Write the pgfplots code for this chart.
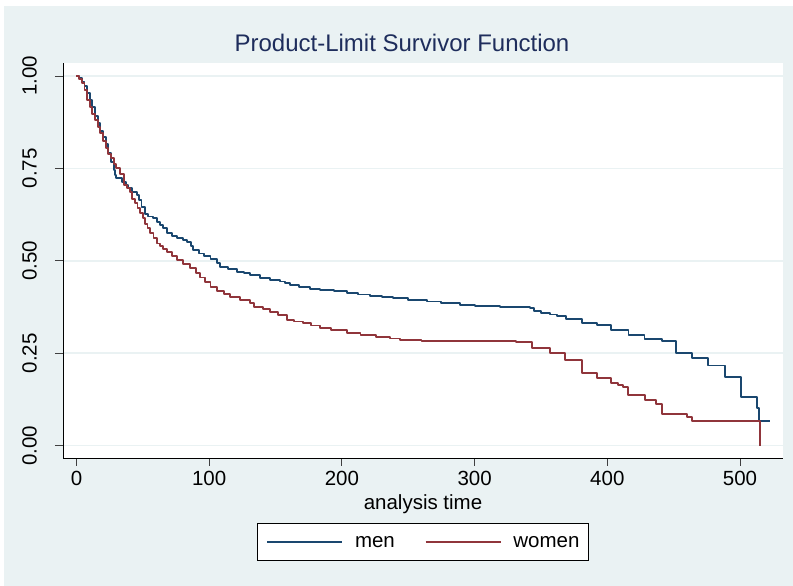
\documentclass[border=0pt]{standalone}
\usepackage{pgfplots}
\pgfplotsset{compat=1.18}
\usepackage{fontspec}
\setmainfont{Liberation Sans}

\definecolor{bgcol}{HTML}{EAF2F3}
\definecolor{gridcol}{HTML}{EAF2F3}
\definecolor{mencol}{HTML}{1A476F}
\definecolor{womencol}{HTML}{90353B}
\definecolor{titlecol}{HTML}{1E2D5C}

% Kaplan-Meier step estimates
\pgfplotstableread{
t s
0 1.000
2 0.995
4 0.985
6 0.972
8 0.955
10 0.935
12 0.915
14 0.893
16 0.872
18 0.852
20 0.835
22 0.815
24 0.792
26 0.768
28 0.745
29 0.732
30 0.723
34 0.714
37 0.705
39 0.696
41.6 0.687
45.4 0.678
47 0.665
49 0.646
51.6 0.627
54 0.620
57.9 0.615
60.4 0.605
62.9 0.598
65 0.588
68 0.575
72 0.568
75.5 0.563
80 0.556
83 0.550
86 0.540
88 0.529
92 0.520
96 0.512
101 0.505
106 0.495
108 0.484
114 0.478
120.7 0.471
126 0.466
130.7 0.462
138 0.453
146 0.448
153.4 0.444
157 0.440
160.9 0.435
168 0.430
176 0.425
183.5 0.421
194 0.418
203.6 0.412
212 0.409
221 0.405
230 0.402
238.7 0.399
250 0.395
258 0.393
264 0.390
275 0.386
289 0.381
300 0.379
319 0.376
332 0.374
342 0.372
345 0.365
350 0.360
357 0.355
362 0.350
369 0.342
381 0.333
392 0.326
403 0.312
416 0.300
428 0.288
441 0.283
452 0.250
464 0.236
476 0.217
489 0.187
501 0.132
512.5 0.101
514 0.068
522.6 0.068
}\men

\pgfplotstableread{
t s
0 1.000
2 0.993
4 0.980
6 0.962
8 0.935
10 0.915
12 0.898
14 0.880
16 0.862
18 0.845
20 0.825
22 0.806
24 0.790
26 0.778
28 0.763
30 0.752
33 0.735
36 0.706
38 0.697
40.3 0.687
42 0.668
44 0.656
46 0.642
47.9 0.629
50 0.615
51.6 0.600
53.5 0.588
55.4 0.575
58 0.562
60.4 0.547
62.9 0.540
65 0.532
68 0.525
72 0.512
75.5 0.502
80 0.492
85.5 0.480
90 0.466
93 0.455
97 0.442
101 0.430
106 0.418
111 0.410
115.7 0.403
123 0.394
130.7 0.385
134 0.374
140.8 0.369
146 0.362
152 0.354
158.4 0.340
164 0.336
171 0.331
177 0.325
183.5 0.318
192 0.312
203.6 0.304
214 0.300
226 0.295
236 0.290
243.8 0.285
260 0.283
331 0.281
343 0.265
357 0.250
368 0.232
381 0.197
392 0.182
403 0.170
408 0.164
412 0.158
415.8 0.138
428.4 0.124
437 0.113
441 0.086
459.8 0.077
463.6 0.067
515 0.000
}\women

\begin{document}
\begin{tikzpicture}
\useasboundingbox (0,0) rectangle (793bp,586bp);
\fill[white] (0,0) rectangle (793bp,586bp);
\fill[bgcol] (4bp,0) rectangle (793bp,580bp);
\begin{axis}[
    at={(63bp,128bp)}, anchor=south west,
    scale only axis, width=720bp, height=395bp,
    xmin=-10.17, xmax=532.4, ymin=-0.0333, ymax=1.0352,
    axis background/.style={fill=white},
    axis x line=bottom, axis y line=left,
    axis line style={-, black, line width=0.9bp},
    xtick={0,100,200,300,400,500},
    ytick={0,0.25,0.5,0.75,1},
    tick align=outside, major tick length=8bp,
    tick style={black!75, line width=0.9bp},
    ymajorgrids, grid style={gridcol, line width=1.6bp},
    /pgf/number format/assume math mode=true,
    tick label style={font=\fontsize{20.5bp}{24bp}\selectfont, black},
    yticklabel style={rotate=90, anchor=south, inner ysep=18bp,
        /pgf/number format/.cd, fixed, fixed zerofill, precision=2},
    xticklabel style={inner ysep=5bp},
    xlabel={analysis time},
    xlabel style={at={(rel axis cs:0.5,0)}, anchor=base, yshift=-51bp,
        font=\fontsize{20.5bp}{24bp}\selectfont},
    title={Product-Limit Survivor Function},
    title style={at={(rel axis cs:0.5,1)}, anchor=base, yshift=6bp, xshift=-21bp,
        font=\fontsize{24bp}{28bp}\selectfont, text=titlecol},
    legend columns=2,
    legend style={at={(rel axis cs:0.5,0)}, anchor=north, yshift=-65bp,
        draw=black, line width=0.9bp, fill=white,
        font=\fontsize{20.5bp}{24bp}\selectfont,
        inner xsep=9bp, inner ysep=13bp,
        nodes={inner sep=0pt, text depth=0pt},
        column sep=12bp,
        /tikz/every even column/.append style={column sep=30bp}},
    legend image code/.code={\draw[#1, line width=1.5bp] (0bp,0bp) -- (75bp,0bp);},
]
\addplot[const plot, mencol, line width=1.9bp, line join=round] table[x=t, y=s] {\men};
\addlegendentry{men}
\addplot[const plot, womencol, line width=1.9bp, line join=round] table[x=t, y=s] {\women};
\addlegendentry{women}
\end{axis}
\end{tikzpicture}
\end{document}
